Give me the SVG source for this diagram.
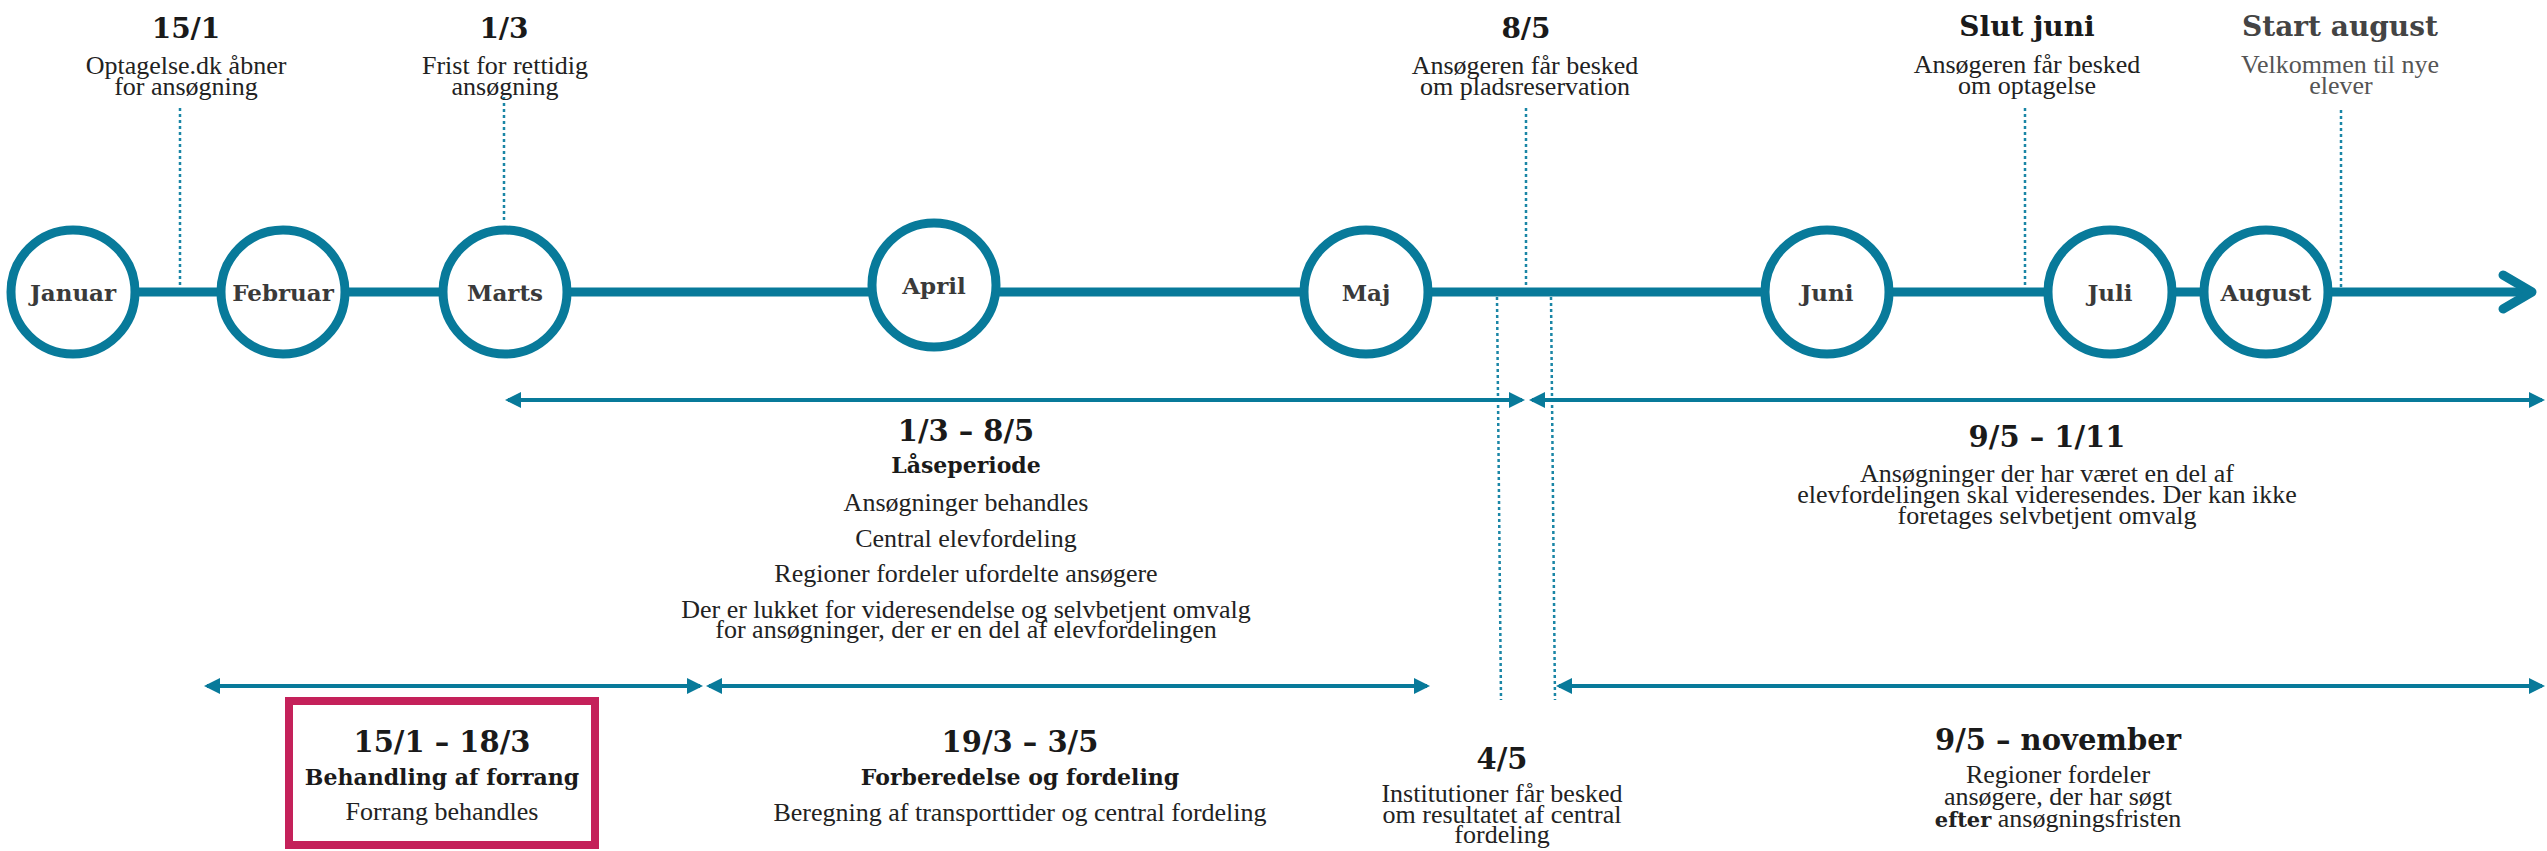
<svg xmlns="http://www.w3.org/2000/svg" width="2547" height="851" viewBox="0 0 2547 851">
<style>
.bg{fill:#ffffff}
.tl{stroke:#087a9a;stroke-width:9;fill:none;stroke-linecap:round;stroke-linejoin:round}
.mc{fill:#ffffff;stroke:#087a9a;stroke-width:9}
.mt{font-family:"DejaVu Serif",Georgia,serif;font-weight:bold;font-size:23px;fill:#3a3a3a;text-anchor:middle}
.dot{stroke:#1a86a6;stroke-width:2.5;stroke-dasharray:3 3;fill:none}
.rng{stroke:#087a9a;stroke-width:4;fill:none}
.hd{font-family:"DejaVu Serif",Georgia,serif;font-weight:bold;font-size:28px;fill:#1a1a1a;text-anchor:middle}
.rh{font-family:"DejaVu Serif",Georgia,serif;font-weight:bold;font-size:29px;fill:#1a1a1a;text-anchor:middle}
.sh{font-family:"DejaVu Serif",Georgia,serif;font-weight:bold;font-size:22px;fill:#1a1a1a;text-anchor:middle}
.bd{font-family:"Liberation Serif","Times New Roman",serif;font-size:26px;fill:#222222;text-anchor:middle}
.b{font-family:"DejaVu Serif",Georgia,serif;font-weight:bold;font-size:21px}
.gr{fill:#444444}
.gr2{fill:#555555}
.box{fill:none;stroke:#c4215a;stroke-width:8}
</style>
<defs>
<marker id="ah" viewBox="0 0 16 16" refX="13" refY="8" markerWidth="16" markerHeight="16" markerUnits="userSpaceOnUse" orient="auto-start-reverse">
<path d="M0,0 L16,8 L0,16 z" fill="#087a9a"/>
</marker>
</defs>
<rect class="bg" x="0" y="0" width="2547" height="851"/>

<g id="connectors">
<line class="tl" x1="73" y1="292" x2="2531" y2="292"/>
<polyline class="tl" points="2503,275 2532,292 2503,309"/>
<line class="dot" x1="180" y1="108" x2="180" y2="287"/>
<line class="dot" x1="504" y1="97" x2="504" y2="222"/>
<line class="dot" x1="1526" y1="108" x2="1526" y2="287"/>
<line class="dot" x1="2025" y1="108" x2="2025" y2="287"/>
<line class="dot" x1="2341" y1="110" x2="2341" y2="287"/>
<line class="dot" x1="1497" y1="297" x2="1501" y2="700"/>
<line class="dot" x1="1551" y1="297" x2="1555" y2="700"/>
<line class="rng" x1="508" y1="400" x2="1522" y2="400" marker-start="url(#ah)" marker-end="url(#ah)"/>
<line class="rng" x1="1532" y1="400" x2="2542" y2="400" marker-start="url(#ah)" marker-end="url(#ah)"/>
<line class="rng" x1="207" y1="686" x2="700" y2="686" marker-start="url(#ah)" marker-end="url(#ah)"/>
<line class="rng" x1="709" y1="686" x2="1427" y2="686" marker-start="url(#ah)" marker-end="url(#ah)"/>
<line class="rng" x1="1559" y1="686" x2="2542" y2="686" marker-start="url(#ah)" marker-end="url(#ah)"/>
</g>

<g id="m-januar"><circle class="mc" cx="73" cy="292" r="62"/><text class="mt" x="73" y="301">Januar</text></g>
<g id="m-februar"><circle class="mc" cx="283" cy="292" r="62"/><text class="mt" x="283" y="301">Februar</text></g>
<g id="m-marts"><circle class="mc" cx="505" cy="292" r="62"/><text class="mt" x="505" y="301">Marts</text></g>
<g id="m-april"><circle class="mc" cx="934" cy="285" r="62"/><text class="mt" x="934" y="294">April</text></g>
<g id="m-maj"><circle class="mc" cx="1366" cy="292" r="62"/><text class="mt" x="1366" y="301">Maj</text></g>
<g id="m-juni"><circle class="mc" cx="1827" cy="292" r="62"/><text class="mt" x="1827" y="301">Juni</text></g>
<g id="m-juli"><circle class="mc" cx="2110" cy="292" r="62"/><text class="mt" x="2110" y="301">Juli</text></g>
<g id="m-august"><circle class="mc" cx="2266" cy="292" r="62"/><text class="mt" x="2266" y="301">August</text></g>

<g id="e-15-1"><text class="hd" x="186" y="38">15/1</text><text class="bd"><tspan x="186" y="74">Optagelse.dk åbner</tspan><tspan x="186" y="95">for ansøgning</tspan></text></g>
<g id="e-1-3"><text class="hd" x="504" y="38">1/3</text><text class="bd"><tspan x="505" y="74">Frist for rettidig</tspan><tspan x="505" y="95">ansøgning</tspan></text></g>
<g id="e-8-5"><text class="hd" x="1526" y="38">8/5</text><text class="bd"><tspan x="1525" y="74">Ansøgeren får besked</tspan><tspan x="1525" y="95">om pladsreservation</tspan></text></g>
<g id="e-slut-juni"><text class="hd" x="2027" y="36">Slut juni</text><text class="bd"><tspan x="2027" y="73">Ansøgeren får besked</tspan><tspan x="2027" y="94">om optagelse</tspan></text></g>
<g id="e-start-august"><text class="hd gr" x="2340" y="36">Start august</text><text class="bd gr2"><tspan x="2340" y="73">Velkommen til nye</tspan><tspan x="2341" y="94">elever</tspan></text></g>

<g id="p-laaseperiode">
<text class="rh" x="966" y="441">1/3 – 8/5</text>
<text class="sh" x="966" y="473">Låseperiode</text>
<text class="bd" x="966" y="511">Ansøgninger behandles</text>
<text class="bd" x="966" y="547">Central elevfordeling</text>
<text class="bd" x="966" y="582">Regioner fordeler ufordelte ansøgere</text>
<text class="bd"><tspan x="966" y="618">Der er lukket for videresendelse og selvbetjent omvalg</tspan><tspan x="966" y="638">for ansøgninger, der er en del af elevfordelingen</tspan></text>
</g>
<g id="p-9-5-1-11">
<text class="rh" x="2047" y="447">9/5 – 1/11</text>
<text class="bd"><tspan x="2047" y="482">Ansøgninger der har været en del af</tspan><tspan x="2047" y="503">elevfordelingen skal videresendes. Der kan ikke</tspan><tspan x="2047" y="524">foretages selvbetjent omvalg</tspan></text>
</g>
<g id="p-forrang">
<rect class="box" x="289" y="701" width="306" height="144"/>
<text class="rh" x="442" y="752">15/1 – 18/3</text>
<text class="sh" x="442" y="785">Behandling af forrang</text>
<text class="bd" x="442" y="820">Forrang behandles</text>
</g>
<g id="p-forberedelse">
<text class="rh" x="1020" y="752">19/3 – 3/5</text>
<text class="sh" x="1020" y="785">Forberedelse og fordeling</text>
<text class="bd" x="1020" y="821">Beregning af transporttider og central fordeling</text>
</g>
<g id="e-4-5">
<text class="rh" x="1502" y="769">4/5</text>
<text class="bd"><tspan x="1502" y="802">Institutioner får besked</tspan><tspan x="1502" y="823">om resultatet af central</tspan><tspan x="1502" y="843">fordeling</tspan></text>
</g>
<g id="p-9-5-november">
<text class="rh" x="2058" y="750">9/5 – november</text>
<text class="bd"><tspan x="2058" y="783">Regioner fordeler</tspan><tspan x="2058" y="805">ansøgere, der har søgt</tspan><tspan x="2058" y="827"><tspan class="b">efter</tspan> ansøgningsfristen</tspan></text>
</g>
</svg>
